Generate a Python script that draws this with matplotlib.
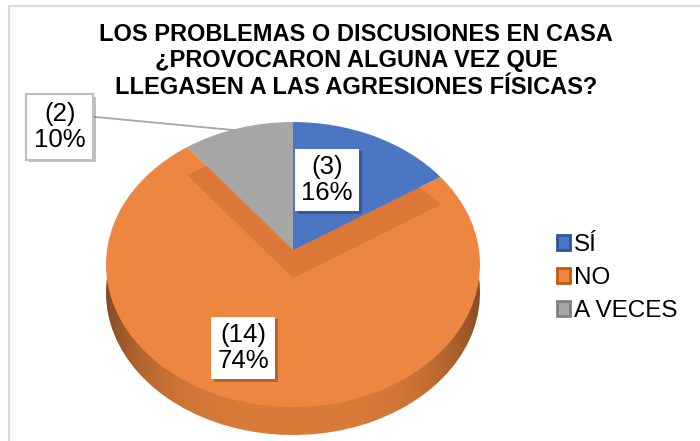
import matplotlib
matplotlib.use("Agg")
import numpy as np
import matplotlib.pyplot as plt
import matplotlib.patheffects as pe
from matplotlib.patches import Patch, Rectangle
from matplotlib.transforms import Transform, Affine2D

plt.rcParams["font.family"] = ["Liberation Sans", "DejaVu Sans"]

# data
title = ("LOS PROBLEMAS O DISCUSIONES EN CASA\n"
         "¿PROVOCARON ALGUNA VEZ QUE\n"
         "LLEGASEN A LAS AGRESIONES FÍSICAS?")
categories = ["SÍ", "NO", "A VECES"]
counts = [3, 14, 2]
percents = [16, 74, 10]  # as printed on the chart

# style
colors = ["#4a76c4", "#ec8641", "#a6a6a6"]
legend_edges = ["#2f5597", "#c55a11", "#7f7f7f"]
wall_color = "#dc7838"
side_color = "#d87a38"


class Tilt(Transform):
    """Mild perspective: the back of the disc is drawn smaller."""
    input_dims = output_dims = 2

    def __init__(self, k):
        super().__init__()
        self.k = k

    def transform_non_affine(self, values):
        values = np.asarray(values, dtype=float)
        s = 1.0 / (1.0 + self.k * values[:, 1])
        return np.column_stack([values[:, 0] * s, values[:, 1] * s])


W, H, DPI = 700, 441, 100
fig = plt.figure(figsize=(W / DPI, H / DPI), dpi=DPI)

# pie geometry in pixels: centre, radii, thickness
cx, cy = 293, 250
rx, ry = 186, 141
depth = 28

ax = fig.add_axes([0, 0, 1, 1])

tilt = Tilt(0.102)
t_top = tilt + ax.transData
t_low = tilt + ax.transData + Affine2D().translate(0, -depth)

kw = dict(startangle=90, counterclock=False, wedgeprops=dict(linewidth=0))
side, _ = ax.pie(counts, colors=[side_color] * 3, **kw)
top, _ = ax.pie(counts, colors=colors, **kw)
walls, _ = ax.pie(counts, colors=[wall_color] * 3, **kw)

for w in side:
    w.set_transform(t_low)
    w.set_zorder(1)
for i, w in enumerate(walls):
    w.set_transform(t_low)
    w.set_zorder(3)
    w.set_visible(i != 1)
for i, w in enumerate(top):
    w.set_transform(t_top)
    w.set_zorder(2 if i == 1 else 4)

# darker shading towards the left/right ends of the side
gx = np.linspace(-1, 1, 200)
shade = np.zeros((1, 200, 4))
shade[0, :, 3] = 0.45 * np.abs(gx) ** 4
im = ax.imshow(shade, extent=(-1.05, 1.05, -1.6, 0.2), aspect="auto",
               interpolation="bilinear", zorder=1.5)
im.set_clip_path(side[1])

ax.set_aspect("auto")
ax.set_xlim(-cx / rx, (W - cx) / rx)
ax.set_ylim(-(H - cy) / ry, cy / ry)
ax.axis("off")

# data labels
label_xy = [(0.183, 0.496), (-0.269, -0.695), (-1.253, 0.872)]
shadow = [pe.withSimplePatchShadow(offset=(2, -2), shadow_rgbFace="#000000", alpha=0.25)]
gray_mid = np.deg2rad(90 + 360 * counts[2] / sum(counts) / 2)
for i, (n, p) in enumerate(zip(counts, percents)):
    txt = f"({n})\n{p}%"
    if i == 2:
        t = ax.annotate(txt, xy=(0.98 * np.cos(gray_mid), 0.98 * np.sin(gray_mid)),
                        xycoords=t_top, xytext=label_xy[i], textcoords="data",
                        ha="center", va="center", fontsize=18.5, zorder=6,
                        linespacing=1.1,
                        bbox=dict(boxstyle="square,pad=0.3", fc="white", ec="#bfbfbf", lw=1.5),
                        arrowprops=dict(arrowstyle="-", color="#a6a6a6", lw=1.3,
                                        relpos=(1.0, 0.72), shrinkA=0, shrinkB=0))
    else:
        t = ax.text(*label_xy[i], txt, ha="center", va="center", fontsize=18.5,
                    zorder=6, linespacing=1.1,
                    bbox=dict(boxstyle="square,pad=0.25", fc="white", alpha=0.9, ec="none"))
    t.get_bbox_patch().set_path_effects(shadow + [pe.Normal()])

# title
fig.text(356 / W, 1 - 61 / H, title, ha="center", va="center", fontsize=17,
         fontweight="bold", linespacing=1.2)

# legend
handles = [Patch(facecolor=c, edgecolor=e, linewidth=2, label=lab)
           for c, e, lab in zip(colors, legend_edges, categories)]
fig.legend(handles=handles, loc="center left", bbox_to_anchor=(557 / W, 1 - 278 / H),
           frameon=False, fontsize=17.5, handlelength=0.55, handleheight=0.55,
           handletextpad=0.15, labelspacing=0.45, borderpad=0, borderaxespad=0)

# chart border (only top and left visible)
fig.add_artist(Rectangle((8.5 / W, -0.1), 1.2, 1.1 - 5.5 / H, transform=fig.transFigure,
                         fill=False, ec="#d9d9d9", lw=1.5))

fig.savefig("out.png", dpi=DPI)
